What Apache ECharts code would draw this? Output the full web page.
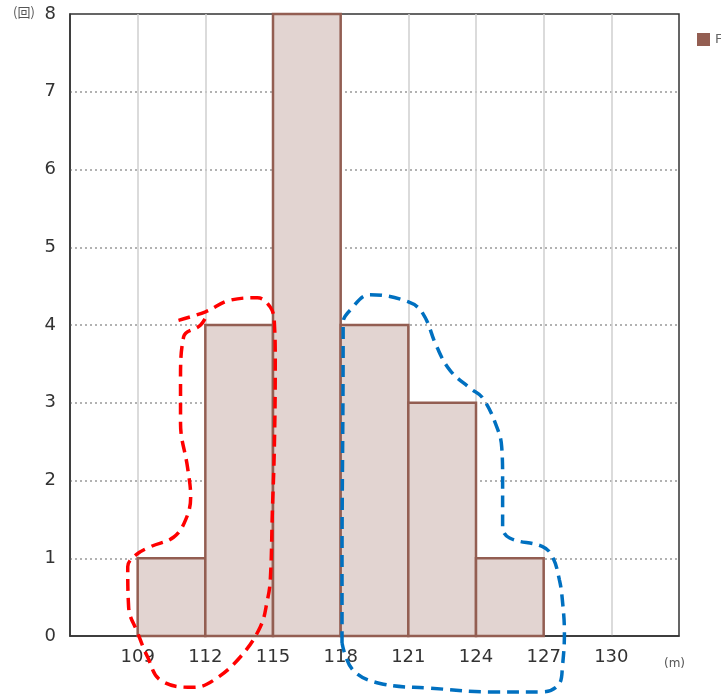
<!DOCTYPE html>
<html>
<head>
<meta charset="utf-8">
<script src="https://cdn.jsdelivr.net/npm/echarts@6/dist/echarts.min.js"></script>
<style>
  html, body { margin: 0; padding: 0; background: #fff; }
  #chart { width: 721px; height: 697px; }
</style>
</head>
<body>
<div id="chart"></div>
<script>
// histogram bins [start, end, count]
var binStarts = [109, 112, 115, 118, 121, 124]
var binEnds = [112, 115, 118, 121, 124, 127]
var counts = [1, 4, 8, 4, 3, 1]
var xTicks = [109, 112, 115, 118, 121, 124, 127, 130]

// hand-drawn dashed loops in data units
var redLoop = [
  [110.81, 4.06], [112.01, 4.17], [113.11, 4.32], [114.31, 4.35], [114.88, 4.23],
  [115.06, 4.03], [115.10, 3.51], [115.06, 2.43], [114.97, 1.58], [114.88, 0.72],
  [114.75, 0.46], [114.44, 0.12], [113.55, -0.27], [112.36, -0.57], [111.48, -0.66],
  [110.02, -0.57], [109.44, -0.27], [109.00, 0.04], [108.60, 0.37], [108.56, 0.89],
  [108.91, 1.04], [109.58, 1.15], [110.59, 1.27], [111.12, 1.49], [111.35, 1.79],
  [111.21, 2.17], [110.90, 2.74], [110.90, 3.29], [111.04, 3.85], [111.79, 4.00],
  [112.10, 4.15]
]
var blueLoop = [
  [118.06, -0.09], [118.06, 0.81], [118.11, 3.90], [118.11, 4.03], [118.42, 4.19],
  [119.30, 4.39], [120.98, 4.30], [121.64, 4.15], [122.26, 3.72], [122.84, 3.42],
  [123.72, 3.19], [124.30, 3.06], [124.92, 2.69], [125.14, 2.43], [125.18, 2.01],
  [125.18, 1.40], [125.49, 1.26], [126.95, 1.15], [127.39, 1.02], [127.70, 0.72],
  [127.83, 0.46], [127.92, 0.04], [127.83, -0.40], [127.70, -0.61], [126.95, -0.72],
  [124.92, -0.72], [121.96, -0.67], [119.75, -0.61], [118.55, -0.44], [118.06, -0.09]
]

var chart = echarts.init(document.getElementById('chart'))

var histData = binStarts.map(function (s, i) {
  return [s, binEnds[i], counts[i]]
})

function renderBin(params, api) {
  var p0 = api.coord([api.value(0), 0])
  var p1 = api.coord([api.value(1), api.value(2)])
  return {
    type: 'rect',
    shape: { x: p0[0], y: p1[1], width: p1[0] - p0[0], height: p0[1] - p1[1] },
    style: { fill: '#e2d4d1', stroke: '#935e52', lineWidth: 2.5 }
  }
}

var labelFont = { color: '#333', fontSize: 18, fontFamily: 'DejaVu Sans' }

chart.setOption({
  animation: false,
  legend: {
    left: 692,
    top: 28,
    itemWidth: 13,
    itemHeight: 13,
    icon: 'rect',
    textStyle: { color: '#666', fontSize: 13, fontFamily: 'DejaVu Sans' },
    data: ['Frequency']
  },
  grid: {
    left: 70,
    right: 42,
    top: 14,
    bottom: 61,
    show: true,
    borderColor: '#333',
    borderWidth: 1.5,
    backgroundColor: 'transparent'
  },
  xAxis: {
    type: 'value',
    min: 106,
    max: 133,
    interval: 3,
    axisLine: { lineStyle: { color: '#333', width: 1.5 } },
    axisTick: { show: false },
    axisLabel: Object.assign({
      margin: 12,
      formatter: function (v) {
        return xTicks.indexOf(v) >= 0 ? String(v) : ''
      }
    }, labelFont),
    splitLine: {
      show: true, showMinLine: false, showMaxLine: false,
      lineStyle: { color: '#cfcfcf', width: 1.5 }
    }
  },
  yAxis: {
    type: 'value',
    min: 0,
    max: 8,
    interval: 1,
    axisLine: { show: true, lineStyle: { color: '#333', width: 1.5 } },
    axisTick: { show: false },
    axisLabel: Object.assign({ margin: 14 }, labelFont),
    splitLine: {
      show: true, showMinLine: false, showMaxLine: false,
      lineStyle: { color: '#999', type: [2, 3], width: 1.5 }
    }
  },
  graphic: [
    {
      type: 'text', left: 13, top: 6,
      style: { text: '(回)', fill: '#555', fontSize: 13, fontFamily: 'Noto Sans CJK JP' }
    },
    {
      type: 'text', left: 664, top: 658,
      style: { text: '(m)', fill: '#555', fontSize: 12, fontFamily: 'DejaVu Sans' }
    }
  ],
  series: [
    {
      name: 'Frequency',
      type: 'custom',
      renderItem: renderBin,
      itemStyle: { color: '#935e52' },
      encode: { x: [0, 1], y: 2 },
      data: histData,
      z: 2
    },
    {
      type: 'line',
      data: redLoop,
      smooth: 0.4,
      symbol: 'none',
      clip: false,
      silent: true,
      lineStyle: { color: '#ff0000', width: 3.5, type: [12, 7] },
      z: 5
    },
    {
      type: 'line',
      data: blueLoop,
      smooth: 0.4,
      symbol: 'none',
      clip: false,
      silent: true,
      lineStyle: { color: '#0070c0', width: 3.5, type: [12, 7] },
      z: 5
    }
  ]
})
</script>
</body>
</html>
